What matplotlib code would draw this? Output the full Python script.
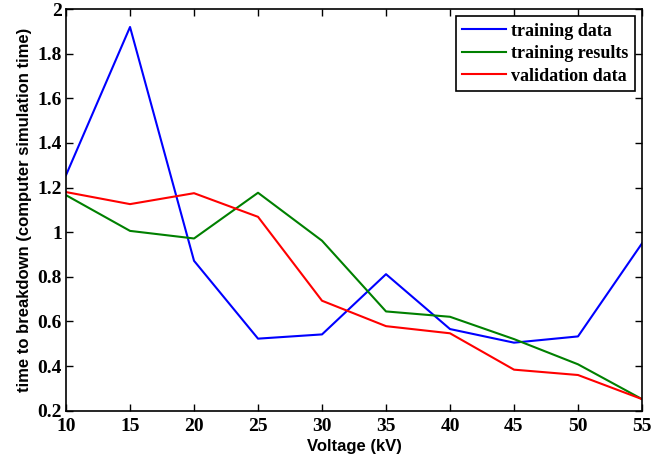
import matplotlib
matplotlib.use("Agg")
import matplotlib.pyplot as plt

voltage = [10, 15, 20, 25, 30, 35, 40, 45, 50, 55]
training_data = [1.256, 1.92, 0.872, 0.523, 0.542, 0.812, 0.566, 0.505, 0.533, 0.95]
training_results = [1.166, 1.006, 0.972, 1.177, 0.962, 0.645, 0.621, 0.521, 0.408, 0.252]
validation_data = [1.18, 1.126, 1.175, 1.069, 0.693, 0.579, 0.547, 0.384, 0.36, 0.252]

xticks = [10, 15, 20, 25, 30, 35, 40, 45, 50, 55]
yticks = [0.2, 0.4, 0.6, 0.8, 1.0, 1.2, 1.4, 1.6, 1.8, 2.0]
yticklabels = ["0.2", "0.4", "0.6", "0.8", "1", "1.2", "1.4", "1.6", "1.8", "2"]

fig = plt.figure(figsize=(6.67, 4.57), dpi=100)
ax = fig.add_axes([0.099, 0.1013, 0.8635, 0.8787])

ax.plot(voltage, training_data, color="#0000ff", lw=1.5, label="training data")
ax.plot(voltage, training_results, color="#008000", lw=1.5, label="training results")
ax.plot(voltage, validation_data, color="#ff0000", lw=1.5, label="validation data")

ax.set_xlim(10, 55)
ax.set_ylim(0.2, 2.0)
ax.set_xticks(xticks)
ax.set_xticklabels([str(t) for t in xticks])
ax.set_yticks(yticks)
ax.set_yticklabels(yticklabels)

for lab in ax.get_xticklabels() + ax.get_yticklabels():
    lab.set_fontfamily("Liberation Serif")
    lab.set_fontweight("bold")
    lab.set_fontsize(14)

ax.tick_params(direction="in", top=True, right=True, length=5, width=1)
ax.tick_params(axis="x", pad=5)
ax.tick_params(axis="y", pad=3)
for s in ax.spines.values():
    s.set_linewidth(1.2)

ax.set_xlabel("Voltage (kV)", fontfamily="Liberation Sans", fontweight="bold", fontsize=12, labelpad=3)
ax.set_ylabel("time to breakdown (computer simulation time)", fontfamily="Liberation Sans",
              fontweight="bold", fontsize=12, labelpad=4)

leg = ax.legend(loc="upper right", prop=dict(family="Liberation Serif", weight="bold", size=13),
                fancybox=False, framealpha=1, edgecolor="black", borderaxespad=0.4,
                handlelength=2.4, handletextpad=0.3, labelspacing=0.3, borderpad=0.35)
leg.get_frame().set_linewidth(1.2)

fig.savefig("out.png", dpi=100)
